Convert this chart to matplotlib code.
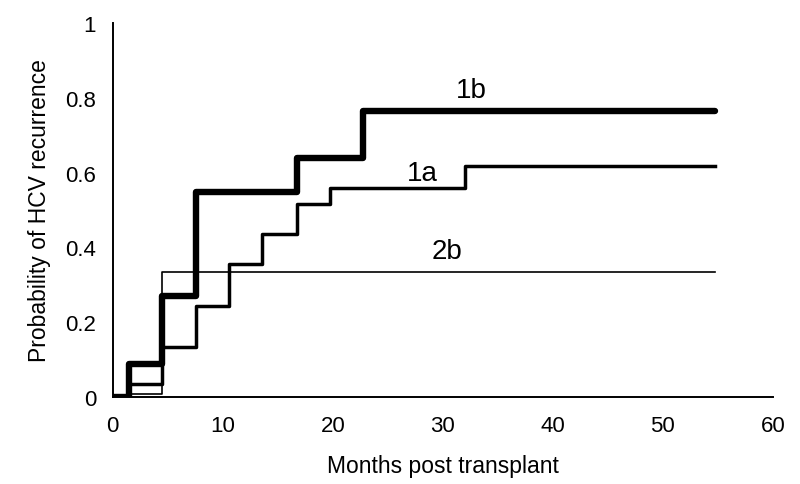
import numpy as np
import matplotlib
matplotlib.use('Agg')
import matplotlib.pyplot as plt

plt.rcParams['font.family'] = ['Liberation Sans', 'DejaVu Sans']

# step curves: time (months) where each level starts, and the level
t_1b = [0, 1.5, 4.5, 7.6, 16.7, 22.7, 54.7]
p_1b = [0, 0.088, 0.27, 0.548, 0.64, 0.765, 0.765]

t_1a = [1.5, 4.5, 7.6, 10.6, 13.6, 16.7, 19.7, 32.0, 54.7]
p_1a = [0.035, 0.135, 0.243, 0.356, 0.436, 0.516, 0.56, 0.618, 0.618]

t_2b = [1.5, 4.5, 54.7]
p_2b = [0.008, 0.335, 0.335]

labels = ['1b', '1a', '2b']
label_x = [32.6, 28.1, 30.4]
label_y = [0.82, 0.60, 0.39]

fig = plt.figure(figsize=(8, 4.85), dpi=100)
ax = fig.add_axes([0.141, 0.179, 0.825, 0.772])

ax.step(t_2b, p_2b, where='post', color='black', lw=1.2)
ax.step(t_1a, p_1a, where='post', color='black', lw=2.5)
ax.step(t_1b, p_1b, where='post', color='black', lw=4.6, solid_capstyle='round')

for lab, x, y in zip(labels, label_x, label_y):
    ax.text(x, y, lab, fontsize=20, ha='center', va='center')

ax.set_xlim(0, 60)
ax.set_ylim(0, 1)
ax.set_xticks(np.arange(0, 61, 10))
ax.set_yticks([0, 0.2, 0.4, 0.6, 0.8, 1])
ax.set_yticklabels(['0', '0.2', '0.4', '0.6', '0.8', '1'])
ax.tick_params(length=0, labelsize=16)
ax.tick_params(axis='x', pad=13)
ax.tick_params(axis='y', pad=12)
for s in ['top', 'right']:
    ax.spines[s].set_visible(False)
for s in ['left', 'bottom']:
    ax.spines[s].set_linewidth(1.4)

ax.set_xlabel('Months post transplant', fontsize=16.5, labelpad=13)
ax.set_ylabel('Probability of HCV recurrence', fontsize=16.5, labelpad=10)

fig.savefig('out.png', dpi=100)
